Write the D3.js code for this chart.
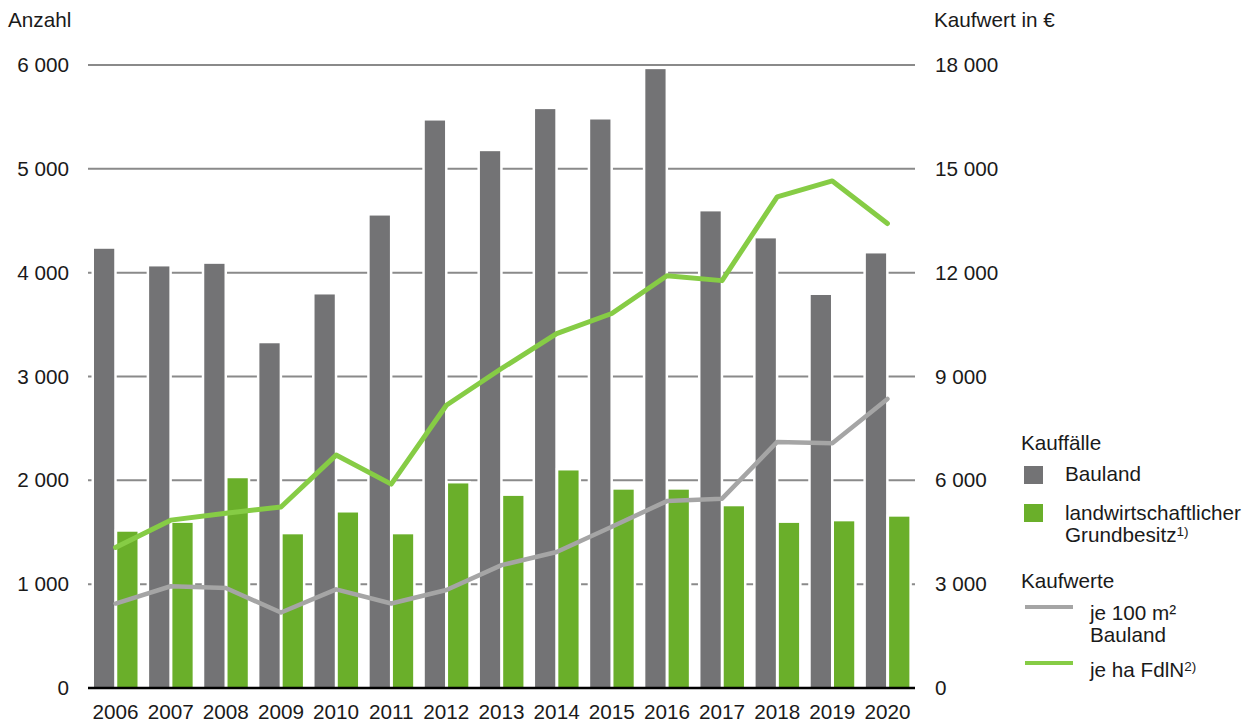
<!DOCTYPE html>
<html>
<head>
<meta charset="utf-8">
<script src="https://cdn.jsdelivr.net/npm/d3@7"></script>
<style>
  html, body { margin: 0; padding: 0; background: #fff; }
  svg { display: block; font-family: "Liberation Sans", Arial, sans-serif; }
</style>
</head>
<body>
<svg id="chart" width="1251" height="724"></svg>
<script>
// ---- data ----
const years = ["2006","2007","2008","2009","2010","2011","2012","2013","2014","2015","2016","2017","2018","2019","2020"];
const kauffaelleBauland = [4230, 4060, 4085, 3320, 3790, 4550, 5465, 5170, 5575, 5475, 5960, 4590, 4330, 3785, 4185];
const kauffaelleLandw   = [1505, 1590, 2020, 1480, 1690, 1480, 1970, 1850, 2095, 1910, 1910, 1750, 1590, 1605, 1650];
const kaufwertBauland   = [2440, 2940, 2890, 2180, 2850, 2440, 2830, 3550, 3930, 4660, 5400, 5470, 7110, 7070, 8350];
const kaufwertFdlN      = [4060, 4850, 5050, 5230, 6730, 5890, 8170, 9230, 10240, 10820, 11910, 11770, 14190, 14650, 13420];
const leftTicks  = [0, 1000, 2000, 3000, 4000, 5000, 6000];
const rightTicks = [0, 3000, 6000, 9000, 12000, 15000, 18000];
const seriesKeys = ["Bauland", "landw"];

(function () {
// ---- setup ----
const svg = d3.select("#chart");
const fmt = d3.formatLocale({decimal: ",", thousands: " ", grouping: [3], currency: ["", " €"]}).format(",d");
const FS = 20.7;

const pLeft = 88, pRight = 915, pTop = 65, pBottom = 688;
const x = d3.scaleBand().domain(years).range([pLeft, pRight]);
const x1 = d3.scaleBand().domain(seriesKeys).range([6, 49.5]).paddingInner(0.13);
const yL = d3.scaleLinear().domain([0, 6000]).range([pBottom, pTop]);
const yR = d3.scaleLinear().domain([0, 18000]).range([pBottom, pTop]);

const cGrid = "#8a8a8a", cBarGray = "#737375", cBarGreen = "#6aaf2a", cLineGray = "#a5a5a5", cLineGreen = "#86cc45";

// gridlines
svg.append("g").selectAll("line").data(leftTicks.filter(d => d > 0)).join("line")
  .attr("x1", pLeft).attr("x2", pRight)
  .attr("y1", d => yL(d)).attr("y2", d => yL(d))
  .attr("stroke", cGrid).attr("stroke-width", 2);

// bars
const groups = svg.append("g").selectAll("g").data(years).join("g")
  .attr("transform", d => `translate(${x(d)},0)`);
groups.append("rect")
  .attr("x", x1("Bauland")).attr("width", x1.bandwidth())
  .attr("y", (d, i) => yL(kauffaelleBauland[i]))
  .attr("height", (d, i) => pBottom - yL(kauffaelleBauland[i]))
  .attr("fill", cBarGray).attr("stroke", "#fff").attr("stroke-width", 5)
  .style("paint-order", "stroke");
groups.append("rect")
  .attr("x", x1("landw")).attr("width", x1.bandwidth())
  .attr("y", (d, i) => yL(kauffaelleLandw[i]))
  .attr("height", (d, i) => pBottom - yL(kauffaelleLandw[i]))
  .attr("fill", cBarGreen).attr("stroke", "#fff").attr("stroke-width", 5)
  .style("paint-order", "stroke");

// baseline
svg.append("line").attr("x1", pLeft).attr("x2", pRight).attr("y1", pBottom).attr("y2", pBottom)
  .attr("stroke", "#000").attr("stroke-width", 2.5);

// lines
const cx = (i) => x(years[i]) + x.bandwidth() / 2;
const line = d3.line().x((d, i) => cx(i)).y(d => yR(d));
svg.append("path").datum(kaufwertBauland).attr("d", line)
  .attr("fill", "none").attr("stroke", cLineGray).attr("stroke-width", 4.5)
  .attr("stroke-linejoin", "round").attr("stroke-linecap", "round");
svg.append("path").datum(kaufwertFdlN).attr("d", line)
  .attr("fill", "none").attr("stroke", cLineGreen).attr("stroke-width", 5)
  .attr("stroke-linejoin", "round").attr("stroke-linecap", "round");

// axes labels (no domain/ticks)
const axL = d3.axisLeft(yL).tickValues(leftTicks).tickFormat(fmt).tickSize(0).tickPadding(19);
const gL = svg.append("g").attr("transform", `translate(${pLeft},0)`).call(axL);
const axR = d3.axisRight(yR).tickValues(rightTicks).tickFormat(fmt).tickSize(0).tickPadding(20);
const gR = svg.append("g").attr("transform", `translate(${pRight},0)`).call(axR);
const axB = d3.axisBottom(x).tickSize(0).tickPadding(16);
const gB = svg.append("g").attr("transform", `translate(0,${pBottom})`).call(axB);
[gL, gR, gB].forEach(g => {
  g.select(".domain").remove();
  g.selectAll("text").attr("font-size", FS).attr("fill", "#1a1a1a")
    .attr("font-family", "'Liberation Sans', Arial, sans-serif");
});

// axis titles
svg.append("text").attr("x", 8).attr("y", 27).attr("font-size", FS).attr("fill", "#1a1a1a").text("Anzahl");
svg.append("text").attr("x", 934).attr("y", 27).attr("font-size", FS).attr("fill", "#1a1a1a").text("Kaufwert in €");

// legend
const lg = svg.append("g").attr("font-size", FS).attr("fill", "#1a1a1a");
lg.append("text").attr("x", 1021).attr("y", 450).text("Kauffälle");
lg.append("rect").attr("x", 1024).attr("y", 466).attr("width", 19).attr("height", 18).attr("fill", cBarGray);
lg.append("text").attr("x", 1065).attr("y", 481).text("Bauland");
lg.append("rect").attr("x", 1024).attr("y", 504).attr("width", 19).attr("height", 18).attr("fill", cBarGreen);
lg.append("text").attr("x", 1065).attr("y", 520).text("landwirtschaftlicher");
const t1 = lg.append("text").attr("x", 1065).attr("y", 542);
t1.append("tspan").text("Grundbesitz");
t1.append("tspan").attr("font-size", 13.5).attr("dy", -6).text("1)");
lg.append("text").attr("x", 1021).attr("y", 588).text("Kaufwerte");
lg.append("line").attr("x1", 1025).attr("x2", 1073).attr("y1", 607).attr("y2", 607)
  .attr("stroke", cLineGray).attr("stroke-width", 4);
lg.append("text").attr("x", 1090).attr("y", 620).text("je 100 m²");
lg.append("text").attr("x", 1090).attr("y", 642).text("Bauland");
lg.append("line").attr("x1", 1025).attr("x2", 1073).attr("y1", 663).attr("y2", 663)
  .attr("stroke", cLineGreen).attr("stroke-width", 4);
const t2 = lg.append("text").attr("x", 1090).attr("y", 677);
t2.append("tspan").text("je ha FdlN");
t2.append("tspan").attr("font-size", 13.5).attr("dy", -6).text("2)");
})();
</script>
</body>
</html>
